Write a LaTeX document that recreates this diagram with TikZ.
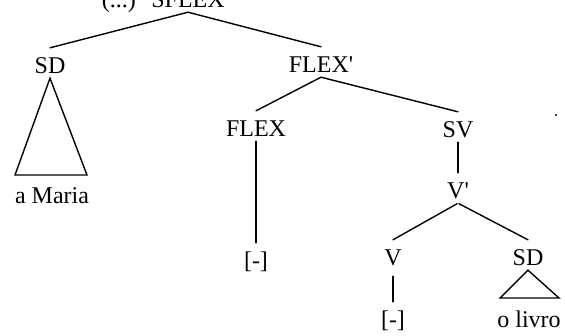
\documentclass[tikz,border=0pt]{standalone}
\usepackage{fontspec}
\setmainfont{Liberation Serif}
\usetikzlibrary{positioning}

\begin{document}
\begin{tikzpicture}[
    x=1pt,y=-1pt,
    node distance=5pt,
    lbl/.style={inner sep=5pt,anchor=base,text height=20pt,text depth=0pt,
                font=\fontsize{24}{28}\selectfont},
    edge/.style={line width=1.4pt,line cap=round},
  ]
    \useasboundingbox(0,0)rectangle(565,335);
    % labels of the tree
    \node[lbl](root)at(188,7){SFLEX};
    \node[lbl,base left=5pt of root](dots){(...)};
    \node[lbl](sd)at(50,73){SD};
    \node[lbl](flexbar)at(321,72){FLEX\textquotesingle};
    \node[lbl](flex)at(256,136){FLEX};
    \node[lbl](sv)at(458,137){SV};
    \node[lbl](vbar)at(458,198){V\textquotesingle};
    \node[lbl](v)at(393,265){V};
    \node[lbl](sdobj)at(528,265){SD};
    \node[lbl](maria)at(52,203){a Maria};
    \node[lbl](flexempty)at(256,268){[-]};
    \node[lbl](vempty)at(393,327){[-]};
    \node[lbl](livro)at(529,327){o livro};
    \coordinate(marial)at(15,175);
    \coordinate(mariar)at(87,175);
    \coordinate(livrol)at(500,298);
    \coordinate(livror)at(559,298);
    % branches
    \draw[edge](root.south)--(sd.north);
    \draw[edge](root.south)--(flexbar.north);
    \draw[edge](flexbar.south)--(flex.north);
    \draw[edge](flexbar.south)--(sv.north);
    \draw[edge](flex.south)--(flexempty.north);
    \draw[edge](sv.south)--(vbar.north);
    \draw[edge,shorten <=1pt](vbar.south)--(v.north);
    \draw[edge,shorten <=1pt](vbar.south)--(sdobj.north);
    \draw[edge,shorten <=6pt](v.south)--(vempty.north);
    \draw[edge,line join=miter](sd.south)--(marial)--(mariar)--cycle;
    \draw[edge,line join=miter](sdobj.south)--(livrol)--(livror)--cycle;
    \fill(556,115)circle(1.2pt);
  \end{tikzpicture}
\end{document}
